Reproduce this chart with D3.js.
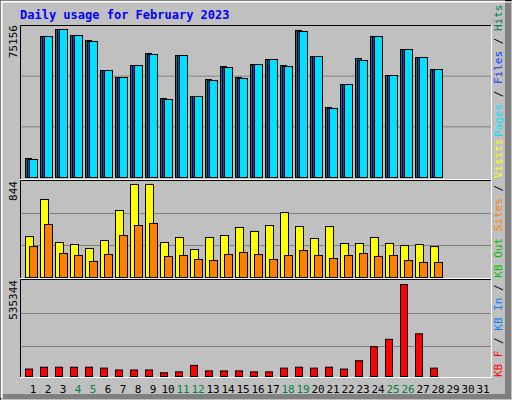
<!DOCTYPE html><html><head><meta charset="utf-8"><script src="https://cdn.jsdelivr.net/npm/d3@7"></script>
<style>body{margin:0;background:#fff}</style></head><body><svg id="c" width="512" height="400"></svg><script>
const days=d3.range(1,32);
const weekend=[4,5,11,12,18,19,25,26];
const hits=[9393,69718,73180,70213,67741,52907,49446,55380,61313,39066,60324,40055,48457,54885,49446,55874,58347,55380,72686,59830,34621,45985,58841,69718,50435,63291,59336,53402];
const files=[8899,69718,73180,70213,67246,52907,49446,55380,60819,38571,60324,40055,47963,54391,48952,55874,58347,54885,72191,59830,34127,45985,57852,69718,50435,63291,59336,53402];
const pages=files;
const visits=360,visits2=[360,686,308,290,255,325,589,818,818,308,352,246,352,369,440,405,457,571,448,343,448,299,299,352,299,281,290,272];
const sites=[272,466,211,193,141,202,369,457,475,185,193,158,149,202,220,202,158,193,237,193,167,193,211,185,193,149,132,132];
const kb=[43254,54069,54069,54069,54069,48661,37846,37846,37846,21624,27031,64884,32439,32439,32439,27031,27031,48661,54069,48661,54069,43254,91915,173024,216278,535344,248717,48661];
const topMax=75156,midMax=844,botMax=535344;
const svg=d3.select("#c");
svg.append("rect").attr("width",512).attr("height",400).attr("fill","#c0c0c0");
svg.append("path").attr("d","M0.5,399.5V0.5H511.5").attr("stroke","#000").attr("fill","none");
svg.append("path").attr("d","M1.5,398V1.5H505").attr("stroke","#fff").attr("stroke-width",2).attr("fill","none");
svg.append("rect").attr("x",505).attr("y",3).attr("width",6).attr("height",396).attr("fill","#808080");
svg.append("rect").attr("x",3).attr("y",394).attr("width",508).attr("height",5).attr("fill","#808080");
svg.append("text").attr("x",20).attr("y",19).text("Daily usage for February 2023").attr("fill","#0000ff").attr("font-family","DejaVu Sans Mono").attr("font-weight","bold").attr("font-size",12);
const x=d3.scaleLinear().domain([1,2]).range([25,40]);
const mono="DejaVu Sans Mono";
function panel(y0,y1){
  svg.append("path").attr("d",`M20.5,${y1}V${y0+.5}H491.5`).attr("stroke","#000").attr("fill","none");
  svg.append("path").attr("d",`M491.5,${y0}V${y1+.5}H20`).attr("stroke","#fff").attr("fill","none");
}
function grid(ys){ys.forEach(g=>svg.append("line").attr("x1",21).attr("x2",491).attr("y1",g+.5).attr("y2",g+.5).attr("stroke","#808080"));}
// top
panel(25,179);
const yT=d3.scaleLinear().domain([0,topMax]).range([177,25]);
grid([yT(topMax/3),yT(topMax*2/3)]);
function bars(data,scale,off,w,col){
  svg.append("g").selectAll("rect").data(data).join("rect").attr("x",(d,i)=>x(i+1)+off+.5).attr("y",d=>scale(d)+.5).attr("width",w).attr("height",d=>scale(0)-scale(d)).attr("fill",col).attr("stroke","#000");
}
bars(hits,yT,0,6,"#00805c");
bars(files,yT,2,6,"#0040ff");
bars(pages,yT,4,8,"#00e0ff");
svg.append("text").attr("transform","translate(17,25) rotate(-90)").attr("text-anchor","end").text(topMax).attr("font-family",mono).attr("font-size",11);
// mid
panel(180,278);
const yM=d3.scaleLinear().domain([0,midMax]).range([277,181]);
grid([yM(midMax/3),yM(midMax*2/3)]);
bars(visits2,yM,0,8,"#ffff00");
bars(sites,yM,4,8,"#ff8000");
svg.append("text").attr("transform","translate(17,181) rotate(-90)").attr("text-anchor","end").text(midMax).attr("font-family",mono).attr("font-size",11);
// bottom
panel(279,377);
const yB=d3.scaleLinear().domain([0,botMax]).range([376,284]);
grid([313,346]);
bars(kb,yB,0,7,"#ff0000");
svg.append("text").attr("transform","translate(17,280) rotate(-90)").attr("text-anchor","end").text(botMax).attr("font-family",mono).attr("font-size",11);
// day labels
svg.append("g").selectAll("text").data(days).join("text").attr("x",d=>x(d)+8).attr("y",393).attr("text-anchor","middle").text(d=>d).attr("font-family",mono).attr("font-size",11).attr("fill",d=>weekend.includes(d)?"#008040":"#000");
// right labels
function rlab(yEnd,parts){
  const t=svg.append("text").attr("transform",`translate(502,${yEnd}) rotate(-90)`).attr("font-family",mono).attr("font-size",11);
  parts.forEach(([s,c])=>t.append("tspan").text(s).attr("fill",c));
}
rlab(137,[["Pages","#00e0ff"],[" / ","#000"],["Files","#0040ff"],[" / ","#000"],["Hits","#00805c"]]);
rlab(377,[["KB F","#ff0000"],[" / ","#000"],["KB In","#0080ff"],[" / ","#000"],["KB Out","#00c000"],[" ","#000"],["Sites","#ff8000"],[" / ","#000"],["Visits","#ffff00"]]);
</script></body></html>
